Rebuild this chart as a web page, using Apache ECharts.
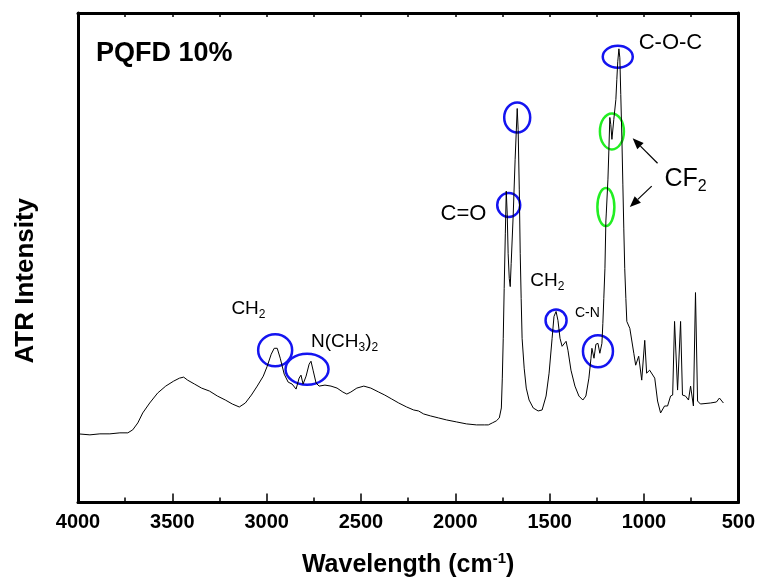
<!DOCTYPE html>
<html>
<head>
<meta charset="utf-8">
<script src="https://cdn.jsdelivr.net/npm/echarts@6/dist/echarts.min.js"></script>
<style>
    html, body {margin: 0; padding: 0; background: #fff;}
    #chart {width: 758px; height: 583px;}
</style>
</head>
<body>
<div id="chart"></div>
<script>
// spectrum (wavenumber in cm-1, intensity in a.u.)
var wavenumber = [
    4000, 3937, 3884, 3831, 3778, 3736, 3710, 3683, 3657, 3620,
    3578, 3535, 3493, 3462, 3440, 3419, 3382, 3345, 3303, 3261,
    3219, 3182, 3145, 3113, 3081, 3050, 3018, 2997, 2976, 2960,
    2944, 2928, 2907, 2886, 2865, 2844, 2828, 2818, 2807, 2791,
    2775, 2765, 2754, 2738, 2722, 2691, 2659, 2627, 2596, 2575,
    2554, 2522, 2485, 2448, 2406, 2374, 2337, 2300, 2258, 2221,
    2195, 2168, 2131, 2089, 2047, 1994, 1941, 1888, 1846, 1825,
    1804, 1783, 1767, 1756, 1751, 1746, 1741, 1735, 1730, 1725,
    1720, 1714, 1709, 1704, 1693, 1683, 1672, 1667, 1661, 1656,
    1651, 1646, 1635, 1624, 1609, 1587, 1561, 1540, 1519, 1503,
    1487, 1477, 1466, 1456, 1445, 1434, 1424, 1413, 1403, 1387,
    1366, 1345, 1324, 1308, 1292, 1281, 1276, 1265, 1255, 1244,
    1234, 1223, 1218, 1213, 1207, 1202, 1200, 1191, 1186, 1181,
    1176, 1170, 1165, 1160, 1149, 1144, 1139, 1133, 1128, 1123,
    1117, 1112, 1107, 1102, 1096, 1091, 1075, 1070, 1054, 1044,
    1028, 1012, 996, 986, 970, 943, 928, 912, 891, 875,
    859, 848, 838, 822, 806, 796, 780, 764, 753, 738,
    727, 716, 701, 648, 616, 600, 579
];
var intensity = [
    69, 68, 69, 69, 70, 70, 73, 80, 90, 100,
    110, 117, 122, 125, 126, 123, 119, 115, 112, 107,
    103, 99, 96, 100, 108, 117, 127, 137, 149, 155,
    155, 145, 129, 121, 119, 114, 125, 128, 119, 127,
    139, 142, 133, 120, 117, 118, 117, 115, 111, 109,
    111, 115, 117, 115, 111, 108, 104, 100, 96, 93,
    92, 89, 87, 85, 83, 81, 79, 78, 78, 78,
    80, 82, 85, 95, 125, 165, 215, 270, 313, 290,
    250, 225, 217, 240, 290, 345, 396, 375, 315, 250,
    205, 165, 135, 115, 103, 95, 92, 93, 107, 130,
    165, 187, 192, 183, 165, 157, 159, 162, 153, 133,
    117, 107, 103, 107, 125, 145, 155, 145, 159, 160,
    150, 160, 180, 205, 235, 283, 290, 325, 355, 387,
    380, 365, 367, 385, 405, 425, 443, 456, 447, 410,
    365, 320, 275, 235, 205, 182, 175, 173, 150, 138,
    147, 123, 163, 130, 133, 125, 102, 90, 97, 97,
    107, 108, 182, 113, 182, 108, 107, 103, 117, 97,
    211, 102, 99, 100, 101, 105, 100
];
var xMin = 500, xMax = 4000, xStep = 500;
var yMin = 0, yMax = 492;

// band marks: [wavenumber, intensity, rx, ry, kind]
var bands = [
    [1139, 448, 15, 11, 'b'],
    [1672, 387, 13, 15, 'b'],
    [1717, 299, 11.5, 12, 'b'],
    [1170, 373, 12, 18, 'g'],
    [1202, 297, 8.5, 19, 'g'],
    [1466, 183, 10.5, 11, 'b'],
    [1244, 152, 15, 16, 'b'],
    [2955, 153, 17, 16, 'b'],
    [2786, 134, 21.5, 15.5, 'b']
];
// label texts and anchors [wavenumber, intensity]
var bandLabels = [
    ['{a|C-O-C}', 1028, 462, 22],
    ['{a|C=O}', 2078, 290, 22],
    ['{a|CH}{b|2}', 1603, 223, 19],
    ['{a|C-N}', 1366, 190, 14],
    ['{a|CH}{b|2}', 3187, 195, 19],
    ['{a|N(CH}{b|3}{a|)}{b|2}', 2765, 162, 19],
    ['{a|CF}{b|2}', 891, 325, 25]
];
// arrows [fromW, fromI, toW, toI]
var arrows = [
    [928, 341, 1060, 366],
    [959, 318, 1075, 297]
];

var FONT = '"Liberation Sans", Arial, sans-serif';
var chart = echarts.init(document.getElementById('chart'));

var series = [];
for (var i = 0; i < wavenumber.length; i++) {
    series.push([wavenumber[i], intensity[i]]);
}

function frame() {
    return {show: true, onZero: false, lineStyle: {color: '#000', width: 3}};
}

chart.setOption({
    animation: false,
    backgroundColor: '#fff',
    title: {
        text: 'PQFD 10%', left: 96, top: 40, padding: 0,
        textStyle: {fontSize: 27, fontWeight: 'bold', fontFamily: FONT, color: '#000'}
    },
    grid: {left: 78, right: 17, top: 13, bottom: 78},
    xAxis: [{
        type: 'value', min: xMin, max: xMax, interval: xStep, inverse: true,
        axisLine: frame(),
        axisTick: {inside: true, length: 9, lineStyle: {color: '#000', width: 1.5}},
        minorTick: {show: true, splitNumber: 2, length: 5, lineStyle: {color: '#000', width: 1.5}},
        splitLine: {show: false},
        axisLabel: {
            margin: 10, fontSize: 20, fontWeight: 'bold', fontFamily: FONT, color: '#000',
            formatter: function (v) { return String(v); }
        },
        name: '{a|Wavelength (cm}{s|-1}{a|)}',
        nameLocation: 'middle', nameGap: 49,
        nameTextStyle: {
            rich: {
                a: {fontSize: 25, fontWeight: 'bold', fontFamily: FONT, color: '#000', lineHeight: 28},
                s: {fontSize: 15, fontWeight: 'bold', fontFamily: FONT, color: '#000', lineHeight: 15, verticalAlign: 'top'}
            }
        }
    }, {
        type: 'value', position: 'top', min: xMin, max: xMax, interval: 250, inverse: true,
        axisLine: frame(),
        axisTick: {inside: true, length: 4, lineStyle: {color: '#000', width: 1.5}},
        axisLabel: {show: false},
        splitLine: {show: false}
    }],
    yAxis: [{
        type: 'value', min: yMin, max: yMax,
        axisLine: frame(), axisTick: {show: false}, axisLabel: {show: false},
        splitLine: {show: false},
        name: 'ATR Intensity', nameLocation: 'middle', nameGap: 39,
        nameTextStyle: {
            fontSize: 26, fontWeight: 'bold', fontFamily: FONT, color: '#000',
            padding: [0, 46, 0, 0]
        }
    }, {
        type: 'value', position: 'right', min: yMin, max: yMax,
        axisLine: frame(), axisTick: {show: false}, axisLabel: {show: false},
        splitLine: {show: false}
    }],
    series: [{
        type: 'line', data: series, showSymbol: false, smooth: false,
        lineStyle: {color: '#000', width: 1}
    }]
});

// annotations placed through the axes
function px(w, v) {
    return chart.convertToPixel({gridIndex: 0}, [w, v]);
}
var graphics = [];
bands.forEach(function (b) {
    var p = px(b[0], b[1]);
    graphics.push({
        type: 'ellipse', shape: {cx: p[0], cy: p[1], rx: b[2], ry: b[3]},
        style: {fill: 'none', stroke: b[4] == 'g' ? '#22ee22' : '#1414f0', lineWidth: 2.5}
    });
});
bandLabels.forEach(function (l) {
    var p = px(l[1], l[2]);
    var fs = l[3];
    graphics.push({
        type: 'text', x: p[0], y: p[1],
        style: {
            text: l[0], textAlign: 'left', textVerticalAlign: 'middle',
            rich: {
                a: {fontSize: fs, fontFamily: FONT, fill: '#000', lineHeight: Math.round(fs * 1.25)},
                b: {fontSize: Math.round(fs * 0.65), fontFamily: FONT, fill: '#000', lineHeight: Math.round(fs * 0.5), verticalAlign: 'bottom'}
            }
        }
    });
});
arrows.forEach(function (a) {
    var p0 = px(a[0], a[1]), p1 = px(a[2], a[3]);
    var dx = p1[0] - p0[0], dy = p1[1] - p0[1];
    var len = Math.sqrt(dx * dx + dy * dy);
    var ux = dx / len, uy = dy / len;
    var hl = 11, hw = 4.5;
    var bx = p1[0] - ux * hl, by = p1[1] - uy * hl;
    graphics.push({
        type: 'line', shape: {x1: p0[0], y1: p0[1], x2: bx, y2: by},
        style: {stroke: '#000', lineWidth: 1.2}
    });
    graphics.push({
        type: 'polygon',
        shape: {points: [[p1[0], p1[1]], [bx - uy * hw, by + ux * hw], [bx + uy * hw, by - ux * hw]]},
        style: {fill: '#000'}
    });
});
chart.setOption({graphic: graphics});
</script>
</body>
</html>
